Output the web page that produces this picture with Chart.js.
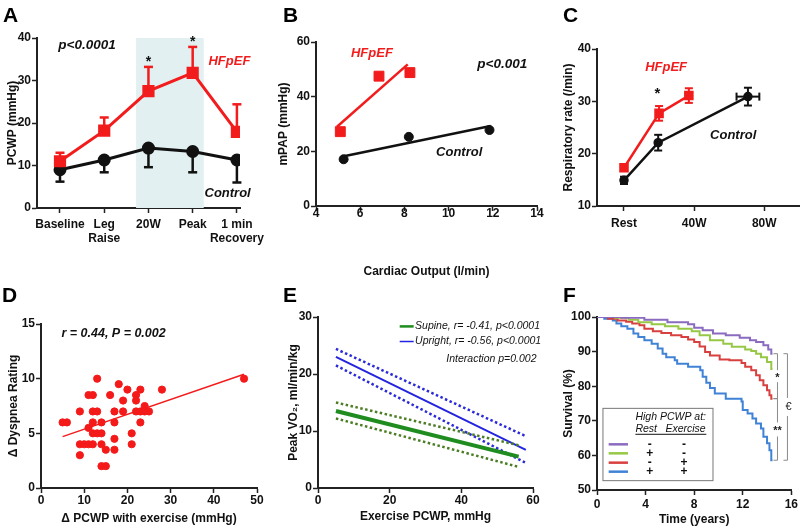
<!DOCTYPE html>
<html>
<head>
<meta charset="utf-8">
<script src="https://cdn.jsdelivr.net/npm/chart.js@4.4.1/dist/chart.umd.min.js"></script>
<style>
    html, body { margin: 0; padding: 0; background: #fff; }
    #fig { position: relative; width: 800px; height: 530px; overflow: hidden; }
    #fig canvas { position: absolute; }
</style>
</head>
<body>
<div id="fig">
    <canvas id="chartA" width="270" height="265" style="left:0px;top:0px"></canvas>
    <canvas id="chartB" width="285" height="280" style="left:270px;top:0px"></canvas>
    <canvas id="chartC" width="260" height="270" style="left:540px;top:0px"></canvas>
    <canvas id="chartD" width="270" height="260" style="left:0px;top:270px"></canvas>
    <canvas id="chartE" width="285" height="260" style="left:270px;top:270px"></canvas>
    <canvas id="chartF" width="260" height="260" style="left:540px;top:270px"></canvas>
</div>
<script>
// ---- A: PCWP by stage
const stagesA = [["Baseline"], ["Leg", "Raise"], ["20W"], ["Peak"], ["1 min", "Recovery"]];
const stageIndex = [0, 1, 2, 3, 4];
const hfpefPcwp = [11.0, 18.2, 27.5, 31.8, 17.9];
const hfpefPcwpErr = [2.0, 3.1, 5.7, 6.1, 6.5];
const controlPcwp = [9.0, 11.3, 14.1, 13.3, 11.3];
const controlPcwpErr = [2.8, 2.9, 4.5, 4.9, 5.3];
const exerciseWindow = [1.72, 3.25];

// ---- B: mPAP vs cardiac output
const hfpefCO = [5.1, 6.85, 8.25];
const hfpefMpap = [27.2, 47.5, 48.8];
const controlCO = [5.25, 8.2, 11.85];
const controlMpap = [17.1, 25.3, 27.8];
const hfpefFitCO = [4.95, 8.15];
const hfpefFitMpap = [29.0, 51.8];
const controlFitCO = [5.15, 11.9];
const controlFitMpap = [18.0, 29.3];

// ---- C: respiratory rate
const workloadTicks = [0, 40, 80];
const workloadLabels = ["Rest", "40W", "80W"];
const hfpefWatts = [0, 20, 37];
const hfpefRR = [17.3, 27.7, 31.1];
const hfpefRRErr = [0.6, 1.4, 1.4];
const controlWatts = [0, 19.5, 70.7];
const controlRR = [14.9, 22.1, 30.9];
const controlRRErr = [0.7, 1.5, 1.7];
const controlWattsErr = [0, 0, 6.5];

// ---- D: dyspnea vs delta PCWP
const deltaPcwp = [5, 6, 9, 9, 9, 10, 11, 11, 11, 12, 12, 12, 12, 12, 13, 13, 13, 14, 14, 14, 14, 15, 15, 16, 17, 17, 17, 17, 18, 19, 19, 20, 21, 21, 22, 22, 22, 23, 23, 23, 24, 24, 25, 28, 47];
const deltaDyspnea = [6, 6, 7, 4, 3, 4, 8.5, 5.5, 4, 8.5, 7, 6, 5, 4, 10, 7, 5, 6, 5, 4, 2, 2, 3.5, 8.5, 7, 6, 4.5, 3.5, 9.5, 8, 7, 9, 5, 4, 8.5, 8, 7, 9, 7, 6, 7.5, 7, 7, 9, 10];
const dyspneaFitX = [5, 47];
const dyspneaFitY = [4.7, 10.4];

// ---- E: peak VO2 vs exercise PCWP (fit and 95% bands)
const supineX = [5, 56];
const supineFit = [13.5, 5.5];
const supineUpper = [15.0, 7.5];
const supineLower = [12.2, 3.7];
const uprightX = [5, 58];
const uprightFit = [23.0, 6.7];
const uprightUpper = [24.4, 9.1];
const uprightLower = [21.5, 4.4];

// ---- F: survival curves
const kmTimes = [
    [0, 2.0, 3.9, 5.8, 7.5, 8.0, 8.7, 9.55, 10.6, 11.75, 12.6, 13.1, 13.7, 14.1, 14.35, 14.45],
    [0, 1.5, 2.6, 3.4, 4.5, 5.6, 6.7, 7.8, 8.45, 9.3, 10.4, 11.1, 12.2, 12.7, 13.1, 13.5, 14.0, 14.35, 14.45],
    [0, 0.9, 1.7, 2.4, 2.9, 3.5, 3.9, 4.6, 5.3, 6.1, 6.95, 7.5, 8.0, 8.45, 8.9, 9.3, 10.1, 10.9, 11.9, 12.2, 12.7, 13.1, 13.4, 13.7, 14.0, 14.2, 14.35, 14.45],
    [0, 0.6, 1.3, 1.6, 2.0, 2.5, 3.0, 3.4, 3.9, 4.5, 5.0, 5.4, 5.7, 6.4, 6.6, 7.5, 8.5, 8.7, 9.0, 9.3, 9.7, 10.6, 11.9, 12.0, 12.4, 12.8, 13.1, 13.5, 13.7, 14.0, 14.2, 14.35, 14.45]
];
const kmSurvival = [
    [100, 99.8, 99.2, 98.5, 97.9, 96.9, 96.2, 95.2, 94.7, 94.0, 93.3, 92.8, 91.8, 90.6, 89.4, 89.4],
    [100, 99.8, 99.2, 98.5, 97.9, 97.3, 96.6, 95.9, 94.7, 93.3, 92.3, 91.4, 90.6, 90.2, 89.4, 88.4, 87.0, 85.0, 85.0],
    [100, 99.5, 99.0, 98.6, 98.1, 97.6, 96.6, 95.9, 95.4, 94.7, 94.2, 93.5, 92.8, 91.5, 89.9, 88.9, 87.7, 87.5, 86.7, 85.6, 84.6, 83.2, 81.7, 80.3, 78.8, 77.4, 76.4, 76.4],
    [100, 99.5, 99.0, 98.1, 97.3, 96.6, 95.2, 94.2, 93.3, 92.3, 90.9, 89.4, 88.4, 87.5, 86.5, 85.6, 84.6, 82.7, 81.0, 79.5, 77.9, 76.4, 75.6, 73.1, 72.1, 70.7, 69.2, 67.8, 65.4, 63.5, 61.5, 58.6, 58.6]
];
const kmColors = ["#8a6bc0", "#96c846", "#d8403f", "#3f82d6"];
const kmRest = ["-", "+", "-", "+"];
const kmExercise = ["-", "-", "+", "+"];

const FONT = '"Liberation Sans", Arial, Helvetica, sans-serif';
const AXIS = "#222";
const RED = "#f21c1c";

function font(size, style) {
    return style + " " + size + "px " + FONT;
}

function points(xs, ys) {
    return xs.map((x, i) => ({ x: x, y: ys[i] }));
}

function makeAxis(o) {
    return {
        type: "linear",
        min: o.min,
        max: o.max,
        afterBuildTicks: scale => {
            scale.ticks = o.ticks.map(v => ({ value: v }));
        },
        afterFit: scale => {
            if (scale.isHorizontal()) {
                scale.height = o.size;
            } else {
                scale.width = o.size;
            }
        },
        border: { display: true, color: AXIS, width: 2 },
        grid: {
            drawOnChartArea: false,
            drawTicks: true,
            tickLength: 5,
            tickWidth: 1.5,
            color: AXIS,
            tickColor: AXIS
        },
        ticks: {
            color: "#111",
            padding: o.tickPad,
            maxRotation: 0,
            autoSkip: false,
            font: { family: FONT, size: 12, weight: "bold" },
            callback: (value, index) => o.labels ? o.labels[index] : value
        },
        title: {
            display: !!o.title,
            text: o.title || "",
            color: "#111",
            font: { family: FONT, size: 12, weight: "bold" },
            padding: o.titlePad || 0
        }
    };
}

function makeOptions(pad, x, y, notes) {
    return {
        responsive: false,
        animation: false,
        layout: { padding: pad, autoPadding: false },
        plugins: {
            legend: { display: false },
            tooltip: { enabled: false },
            notes: notes
        },
        scales: { x: x, y: y }
    };
}

// text notes + panel letter
Chart.register({
    id: "notes",
    afterDraw(chart, args, opts) {
        const ctx = chart.ctx;
        const xs = chart.scales.x;
        const ys = chart.scales.y;
        ctx.save();
        (opts.items || []).forEach(n => {
            ctx.font = n.font;
            ctx.fillStyle = n.color || "#111";
            ctx.textAlign = n.align || "center";
            ctx.textBaseline = "middle";
            ctx.fillText(n.text, xs.getPixelForValue(n.x), ys.getPixelForValue(n.y));
        });
        if (opts.letter) {
            ctx.font = font(21, "bold");
            ctx.fillStyle = "#000";
            ctx.textAlign = "left";
            ctx.textBaseline = "alphabetic";
            ctx.fillText(opts.letter[0], opts.letter[1], opts.letter[2]);
        }
        ctx.restore();
    }
});

// error bars from dataset.errUp / errDown / errX
Chart.register({
    id: "errorBars",
    afterDatasetsDraw(chart) {
        const ctx = chart.ctx;
        const xs = chart.scales.x;
        const ys = chart.scales.y;
        chart.data.datasets.forEach(ds => {
            if (!ds.errUp && !ds.errDown && !ds.errX) {
                return;
            }
            ctx.save();
            ctx.strokeStyle = ds.borderColor;
            ctx.lineWidth = ds.errWidth || 2;
            const cap = ds.errCap || 4;
            const seg = (x1, y1, x2, y2) => {
                ctx.beginPath();
                ctx.moveTo(x1, y1);
                ctx.lineTo(x2, y2);
                ctx.stroke();
            };
            ds.data.forEach((p, i) => {
                const px = xs.getPixelForValue(p.x);
                const py = ys.getPixelForValue(p.y);
                if (ds.errUp && ds.errUp[i]) {
                    const t = ys.getPixelForValue(p.y + ds.errUp[i]);
                    seg(px, py, px, t);
                    seg(px - cap, t, px + cap, t);
                }
                if (ds.errDown && ds.errDown[i]) {
                    const b = ys.getPixelForValue(p.y - ds.errDown[i]);
                    seg(px, py, px, b);
                    seg(px - cap, b, px + cap, b);
                }
                if (ds.errX && ds.errX[i]) {
                    const l = xs.getPixelForValue(p.x - ds.errX[i]);
                    const r = xs.getPixelForValue(p.x + ds.errX[i]);
                    seg(l, py, r, py);
                    seg(l, py - cap, l, py + cap);
                    seg(r, py - cap, r, py + cap);
                }
            });
            ctx.restore();
        });
    }
});

const bandPlugin = {
    id: "band",
    beforeDatasetsDraw(chart) {
        const ctx = chart.ctx;
        const area = chart.chartArea;
        const x1 = chart.scales.x.getPixelForValue(exerciseWindow[0]);
        const x2 = chart.scales.x.getPixelForValue(exerciseWindow[1]);
        ctx.save();
        ctx.fillStyle = "#e2f0f1";
        ctx.fillRect(x1, area.top, x2 - x1, area.bottom - area.top);
        ctx.restore();
    }
};

const vo2LegendPlugin = {
    id: "vo2Legend",
    afterDraw(chart) {
        const ctx = chart.ctx;
        const X = v => chart.scales.x.getPixelForValue(v);
        const Y = v => chart.scales.y.getPixelForValue(v);
        ctx.save();
        ctx.strokeStyle = "#1e8c1e";
        ctx.lineWidth = 2.5;
        ctx.beginPath();
        ctx.moveTo(X(22.8), Y(28.35));
        ctx.lineTo(X(26.7), Y(28.35));
        ctx.stroke();
        ctx.strokeStyle = "#2424e0";
        ctx.lineWidth = 1.5;
        ctx.beginPath();
        ctx.moveTo(X(22.8), Y(25.7));
        ctx.lineTo(X(26.7), Y(25.7));
        ctx.stroke();
        ctx.restore();
    }
};

const kmExtrasPlugin = {
    id: "kmExtras",
    afterDatasetsDraw(chart) {
        const ctx = chart.ctx;
        const X = v => chart.scales.x.getPixelForValue(v);
        const Y = v => chart.scales.y.getPixelForValue(v);
        ctx.save();

        // legend box
        const bx = X(0.49), by = Y(73.6);
        ctx.fillStyle = "#fff";
        ctx.fillRect(bx, by, X(9.55) - bx, Y(52.7) - by);
        ctx.strokeStyle = "#777";
        ctx.lineWidth = 1;
        ctx.strokeRect(bx, by, X(9.55) - bx, Y(52.7) - by);

        ctx.strokeStyle = "#111";
        ctx.beginPath();
        ctx.moveTo(X(3.16), Y(66.1));
        ctx.lineTo(X(9.0), Y(66.1));
        ctx.stroke();

        const rows = [63.2, 60.6, 57.9, 55.3];
        rows.forEach((r, i) => {
            ctx.strokeStyle = kmColors[i];
            ctx.lineWidth = 2.5;
            ctx.beginPath();
            ctx.moveTo(X(0.96), Y(r));
            ctx.lineTo(X(2.55), Y(r));
            ctx.stroke();
        });

        // significance brackets from curve end values
        const ends = kmSurvival.map(s => Y(s[s.length - 1]));
        const inner = X(14.86);
        const outer = X(15.68);
        ctx.strokeStyle = "#8a8a8a";
        ctx.lineWidth = 1;
        const bracket = (x, y1, y2, gap) => {
            const m = (y1 + y2) / 2;
            ctx.beginPath();
            ctx.moveTo(x - 4, y1);
            ctx.lineTo(x, y1);
            ctx.lineTo(x, m - gap);
            ctx.moveTo(x, m + gap);
            ctx.lineTo(x, y2);
            ctx.lineTo(x - 4, y2);
            ctx.stroke();
        };
        bracket(inner, ends[0], ends[2], 6);
        bracket(inner, ends[2], ends[3], 7);
        bracket(outer, ends[0], ends[3], 9);

        ctx.fillStyle = "#222";
        ctx.textAlign = "center";
        ctx.textBaseline = "middle";
        ctx.font = font(11, "bold");
        ctx.fillText("*", inner, (ends[0] + ends[2]) / 2 + 2);
        ctx.fillText("**", inner, (ends[2] + ends[3]) / 2 + 2);
        ctx.font = font(11, "normal");
        ctx.fillText("€", outer + 1, (ends[0] + ends[3]) / 2);
        ctx.restore();
    }
};

// ---------- A
new Chart(document.getElementById("chartA"), {
    type: "line",
    data: {
        datasets: [
            {
                data: points(stageIndex, hfpefPcwp),
                borderColor: RED,
                backgroundColor: RED,
                borderWidth: 3,
                pointStyle: "rect",
                pointRadius: 6.5,
                errUp: hfpefPcwpErr,
                errWidth: 2.5,
                errCap: 4.5
            },
            {
                data: points(stageIndex, controlPcwp),
                borderColor: "#111",
                backgroundColor: "#111",
                borderWidth: 3,
                pointRadius: 5,
                errDown: controlPcwpErr,
                errWidth: 2.5,
                errCap: 4.5
            }
        ]
    },
    options: makeOptions(
        { top: 38, right: 30, left: 0, bottom: 0 },
        makeAxis({ min: -0.52, max: 4.07, ticks: stageIndex, labels: stagesA, size: 57, tickPad: 4 }),
        makeAxis({ min: 0, max: 40, ticks: [0, 10, 20, 30, 40], size: 37, tickPad: 1, title: "PCWP (mmHg)", titlePad: { top: 5 } }),
        {
            letter: ["A", 3, 22],
            items: [
                { text: "p<0.0001", x: 0.61, y: 38.3, font: font(13.5, "italic bold") },
                { text: "HFpEF", x: 3.83, y: 34.5, font: font(13, "italic bold"), color: RED },
                { text: "Control", x: 3.79, y: 3.5, font: font(13, "italic bold") },
                { text: "*", x: 2, y: 34.4, font: font(14, "bold") },
                { text: "*", x: 3, y: 39.1, font: font(14, "bold") }
            ]
        }
    ),
    plugins: [bandPlugin]
});

// ---------- B
new Chart(document.getElementById("chartB"), {
    type: "scatter",
    data: {
        datasets: [
            {
                data: points(hfpefCO, hfpefMpap),
                backgroundColor: RED,
                borderColor: RED,
                pointStyle: "rect",
                pointRadius: 7
            },
            {
                data: points(controlCO, controlMpap),
                backgroundColor: "#111",
                borderColor: "#111",
                pointRadius: 4.5
            },
            {
                data: points(hfpefFitCO, hfpefFitMpap),
                showLine: true,
                borderColor: RED,
                borderWidth: 2.5,
                pointRadius: 0
            },
            {
                data: points(controlFitCO, controlFitMpap),
                showLine: true,
                borderColor: "#111",
                borderWidth: 2.5,
                pointRadius: 0
            }
        ]
    },
    options: makeOptions(
        { top: 42, right: 18, left: 0, bottom: 0 },
        makeAxis({ min: 4, max: 14, ticks: [4, 6, 8, 10, 12, 14], size: 74, tickPad: -5, title: "Cardiac Output (l/min)", titlePad: { top: 0, bottom: 0.8 } }),
        makeAxis({ min: 0, max: 60, ticks: [0, 20, 40, 60], size: 46, tickPad: 1, title: "mPAP (mmHg)", titlePad: { top: 6 } }),
        {
            letter: ["B", 13, 22],
            items: [
                { text: "HFpEF", x: 6.53, y: 55.7, font: font(13, "italic bold"), color: RED },
                { text: "p<0.001", x: 12.43, y: 52.0, font: font(13.5, "italic bold") },
                { text: "Control", x: 10.48, y: 19.7, font: font(13, "italic bold") }
            ]
        }
    )
});

// ---------- C
new Chart(document.getElementById("chartC"), {
    type: "line",
    data: {
        datasets: [
            {
                data: points(hfpefWatts, hfpefRR),
                borderColor: RED,
                backgroundColor: RED,
                borderWidth: 2.5,
                pointStyle: "rect",
                pointRadius: 5,
                errUp: hfpefRRErr,
                errDown: hfpefRRErr,
                errWidth: 2,
                errCap: 4
            },
            {
                data: points(controlWatts, controlRR),
                borderColor: "#111",
                backgroundColor: "#111",
                borderWidth: 2.5,
                pointRadius: 3.5,
                errUp: controlRRErr,
                errDown: controlRRErr,
                errX: controlWattsErr,
                errWidth: 2,
                errCap: 4
            }
        ]
    },
    options: makeOptions(
        { top: 49, right: 0, left: 0, bottom: 0 },
        makeAxis({ min: -15.4, max: 100.4, ticks: workloadTicks, labels: workloadLabels, size: 64, tickPad: 5 }),
        makeAxis({ min: 10, max: 40, ticks: [10, 20, 30, 40], size: 57, tickPad: 1, title: "Respiratory rate (/min)", titlePad: { top: 21 } }),
        {
            letter: ["C", 23, 22],
            items: [
                { text: "HFpEF", x: 24, y: 36.4, font: font(13, "italic bold"), color: RED },
                { text: "*", x: 19.1, y: 31.4, font: font(15, "bold") },
                { text: "Control", x: 62.3, y: 23.5, font: font(13, "italic bold") }
            ]
        }
    )
});

// ---------- D
new Chart(document.getElementById("chartD"), {
    type: "scatter",
    data: {
        datasets: [
            {
                data: points(deltaPcwp, deltaDyspnea),
                backgroundColor: "#f41a1a",
                borderColor: "#f41a1a",
                pointRadius: 3.6
            },
            {
                data: points(dyspneaFitX, dyspneaFitY),
                showLine: true,
                borderColor: "#f41a1a",
                borderWidth: 1.5,
                pointRadius: 0
            }
        ]
    },
    options: makeOptions(
        { top: 54, right: 13, left: 0, bottom: 0 },
        makeAxis({ min: 0, max: 50, ticks: [0, 10, 20, 30, 40, 50], size: 42, tickPad: 0, title: "Δ PCWP with exercise (mmHg)", titlePad: { top: 0, bottom: 4.5 } }),
        makeAxis({ min: 0, max: 15, ticks: [0, 5, 10, 15], size: 41, tickPad: 1, title: "Δ Dyspnea Rating", titlePad: { top: 6 } }),
        {
            letter: ["D", 2, 31.7],
            items: [
                { text: "r = 0.44, P = 0.002", x: 16.8, y: 14.1, font: font(12.5, "italic bold") }
            ]
        }
    )
});

// ---------- E
function fitLine(xs, ys, color, width, dash) {
    return {
        data: points(xs, ys),
        showLine: true,
        borderColor: color,
        borderWidth: width,
        borderDash: dash,
        pointRadius: 0
    };
}

new Chart(document.getElementById("chartE"), {
    type: "scatter",
    data: {
        datasets: [
            fitLine(supineX, supineFit, "#1e8c1e", 4, []),
            fitLine(supineX, supineUpper, "#4b7d24", 2.5, [2.5, 2.5]),
            fitLine(supineX, supineLower, "#4b7d24", 2.5, [2.5, 2.5]),
            fitLine(uprightX, uprightFit, "#2424e0", 2, []),
            fitLine(uprightX, uprightUpper, "#2a2ad8", 2.5, [2.5, 2.5]),
            fitLine(uprightX, uprightLower, "#2a2ad8", 2.5, [2.5, 2.5])
        ]
    },
    options: makeOptions(
        { top: 47, right: 22, left: 0, bottom: 0 },
        makeAxis({ min: 0, max: 60, ticks: [0, 20, 40, 60], size: 42, tickPad: 0, title: "Exercise PCWP, mmHg", titlePad: { top: 0, bottom: 6 } }),
        makeAxis({ min: 0, max: 30, ticks: [0, 10, 20, 30], size: 48, tickPad: 1, title: "Peak VO₂, ml/min/kg", titlePad: { top: 16 } }),
        {
            letter: ["E", 13, 31.7],
            items: [
                { text: "Supine, r= -0.41, p<0.0001", x: 27.1, y: 28.35, align: "left", font: font(10.5, "italic") },
                { text: "Upright, r= -0.56, p<0.0001", x: 27.1, y: 25.7, align: "left", font: font(10.5, "italic") },
                { text: "Interaction p=0.002", x: 35.8, y: 22.6, align: "left", font: font(10.5, "italic") }
            ]
        }
    ),
    plugins: [vo2LegendPlugin]
});

// ---------- F
const kmRows = [63.2, 60.6, 57.9, 55.3];
const kmNotes = [
    { text: "High PCWP at:", x: 3.16, y: 71.0, align: "left", font: font(10.5, "italic") },
    { text: "Rest", x: 3.16, y: 67.5, align: "left", font: font(10.5, "italic") },
    { text: "Exercise", x: 5.63, y: 67.5, align: "left", font: font(10.5, "italic") }
];
kmRows.forEach((r, i) => {
    kmNotes.push({ text: kmRest[i], x: 4.34, y: r, font: font(12, "bold") });
    kmNotes.push({ text: kmExercise[i], x: 7.16, y: r, font: font(12, "bold") });
});

new Chart(document.getElementById("chartF"), {
    type: "line",
    data: {
        datasets: kmTimes.map((t, i) => ({
            data: points(t, kmSurvival[i]),
            borderColor: kmColors[i],
            borderWidth: 2,
            stepped: "before",
            pointRadius: 0
        }))
    },
    options: makeOptions(
        { top: 47, right: 8, left: 0, bottom: 0 },
        makeAxis({ min: 0, max: 16, ticks: [0, 4, 8, 12, 16], size: 40, tickPad: 2, title: "Time (years)", titlePad: { top: 0, bottom: 2.8 } }),
        makeAxis({ min: 50, max: 100, ticks: [50, 60, 70, 80, 90, 100], size: 57, tickPad: 1, title: "Survival (%)", titlePad: { top: 21 } }),
        {
            letter: ["F", 23, 31.7],
            items: kmNotes
        }
    ),
    plugins: [kmExtrasPlugin]
});
</script>
</body>
</html>
